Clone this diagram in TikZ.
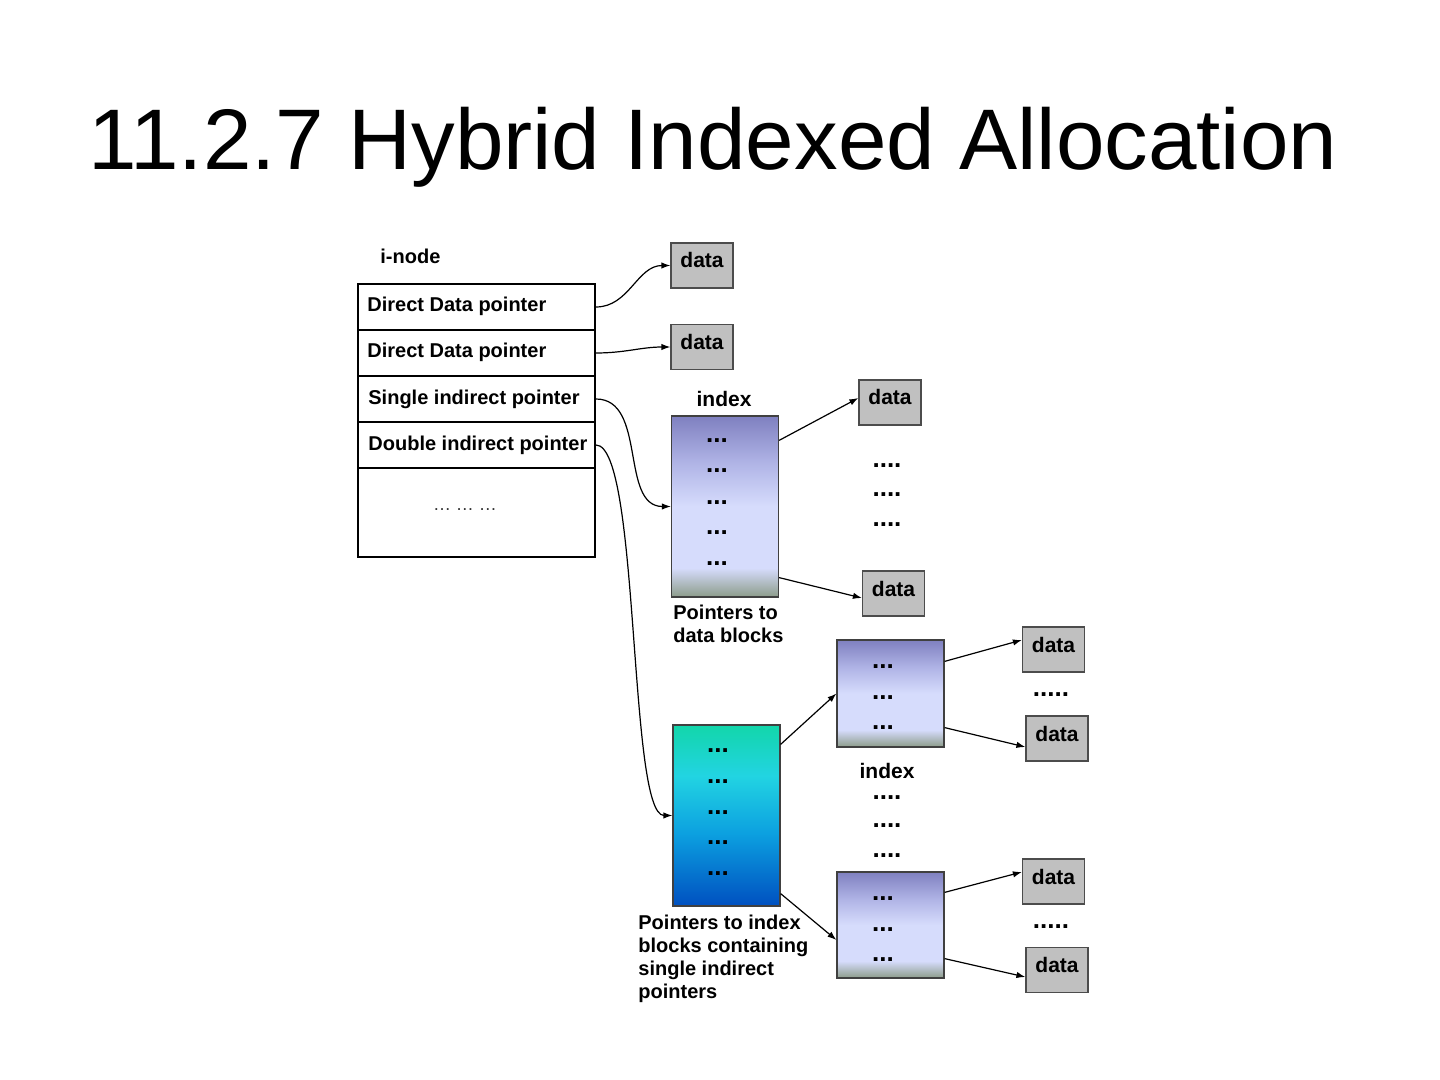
\documentclass[tikz,border=0pt]{standalone}
\usepackage{fontspec}
\setmainfont{Liberation Sans}
\usetikzlibrary{arrows.meta}
\definecolor{datagray}{HTML}{C0C0C0}
\definecolor{idxtop}{HTML}{7F80C0}
\definecolor{idxup}{HTML}{B0B4E6}
\definecolor{idxmid}{HTML}{D6DCFC}
\definecolor{idxbot}{HTML}{8C9C8A}
\definecolor{ttop}{HTML}{12D6AA}
\definecolor{tcyan}{HTML}{22D4E2}
\definecolor{tmid}{HTML}{0CA0E0}
\definecolor{tbot}{HTML}{0050C0}
\pgfdeclareverticalshading{idxshade}{100bp}{color(0bp)=(idxbot); color(25bp)=(idxbot); color(33bp)=(idxmid); color(50bp)=(idxmid); color(62bp)=(idxup); color(75bp)=(idxtop); color(100bp)=(idxtop)}
\pgfdeclareverticalshading{tealshade}{100bp}{color(0bp)=(tbot); color(25bp)=(tbot); color(45bp)=(tmid); color(61bp)=(tcyan); color(75bp)=(ttop); color(100bp)=(ttop)}
\begin{document}
\begin{tikzpicture}[x=0.5pt,y=-0.5pt,
  lbl/.style={font=\bfseries\fontsize{10}{11.5}\selectfont, inner sep=0pt},
  databox/.style={draw=black!70, fill=datagray, line width=0.6pt, minimum width=31pt, minimum height=22.5pt, inner sep=0pt, font=\bfseries\fontsize{10.5}{12}\selectfont, text height=7.5pt, text depth=5pt},
  rowbox/.style={draw=black, line width=0.9pt, minimum width=118.5pt, minimum height=23pt, inner sep=0pt},
  idxbox/.style={draw=black!75, line width=0.6pt, shading=idxshade, minimum width=53.5pt, inner sep=0pt},
  tealbox/.style={draw=black!75, line width=0.6pt, shading=tealshade, minimum width=53.5pt, inner sep=0pt},
  dots/.style={font=\bfseries\fontsize{13}{13}\selectfont, inner sep=0pt, anchor=base, text height=2pt, text depth=0pt},
  conn/.style={-{Latex[length=4.5pt,width=3.2pt]}, line width=0.6pt, black}]
\useasboundingbox[fill=white] (0,0) rectangle (1440,1080);

% title
\node[anchor=base west, inner sep=0pt, font=\fontsize{43}{43}\selectfont] (title) at (88,170) {\scalebox{1.014}[1]{11.2.7 Hybrid Indexed Allocation}};

% i-node
\node[lbl, anchor=west] (inodelbl) at (380,256) {i-node};
\node[rowbox] (r1) at (476.5,307) {};
\node[rowbox] (r2) at (476.5,353) {};
\node[rowbox] (r3) at (476.5,399) {};
\node[rowbox] (r4) at (476.5,445) {};
\node[rowbox, minimum height=44.5pt] (r5) at (476.5,512.5) {};
\node[lbl, anchor=west] (t1) at (367,306) {Direct Data pointer};
\node[lbl, anchor=west] (t2) at (367,352) {Direct Data pointer};
\node[lbl, anchor=west] (t3) at (368,399) {Single indirect pointer};
\node[lbl, anchor=west] (t4) at (368,445) {Double indirect pointer};
\node[inner sep=0pt, font=\fontsize{9}{9}\selectfont, text=black!80] (idots) at (465,510) {\ldots\ \ldots\ \ldots};

% data boxes
\node[databox] (d1) at (702,265.5) {data};
\node[databox] (d2) at (702,347) {data};
\node[databox] (d3) at (890,402.5) {data};
\node[databox] (d4) at (893.5,593.5) {data};
\node[databox] (d5) at (1053.5,649.5) {data};
\node[databox] (d6) at (1057,738.5) {data};
\node[databox] (d7) at (1053.5,881.5) {data};
\node[databox] (d8) at (1057,970) {data};

% index blocks
\node[lbl, font=\bfseries\fontsize{10.5}{12}\selectfont] (idxlbl1) at (724,399) {index};
\node[idxbox, minimum height=90.5pt] (i1) at (725,506.5) {};
\node[idxbox, minimum height=53.5pt] (i2) at (890.5,693.5) {};
\node[idxbox, minimum height=53pt] (i3) at (890.5,925) {};
\node[tealbox, minimum height=90.5pt] (t) at (726.5,815.5) {};
\node[lbl, font=\bfseries\fontsize{10.5}{12}\selectfont] (idxlbl2) at (887,771) {index};

% dots
\foreach \y [count=\k] in {439,469,500,530,561} \node[dots] (ia\k) at (717,\y+4) {...};
\foreach \y [count=\k] in {748,779,810,840,871} \node[dots] (ta\k) at (718,\y+4) {...};
\foreach \y [count=\k] in {664,695,725} \node[dots] (ib\k) at (883,\y+4) {...};
\foreach \y [count=\k] in {896,927,957} \node[dots] (ic\k) at (883,\y+4) {...};
\foreach \y [count=\k] in {463,492,522} \node[dots] (oa\k) at (887,\y+4) {....};
\foreach \y [count=\k] in {795,823,853} \node[dots] (ob\k) at (887,\y+4) {....};
\node[dots] (oc1) at (1051,696) {.....};
\node[dots] (oc2) at (1051,928) {.....};

% captions
\node[lbl, anchor=north west, align=left] (cap1) at (673,605) {Pointers to\\data blocks};
\node[lbl, anchor=north west, align=left] (cap2) at (638,915) {Pointers to index\\blocks containing\\single indirect\\pointers};

% connectors
\draw[conn] (r1.east) to[out=0,in=180] (d1.west);
\draw[conn] (r2.east) to[out=0,in=180] (d2.west);
\draw[conn] (r3.east) to[out=0,in=180] (i1.west);
\draw[conn] (r4.east) to[out=0,in=180,looseness=0.3] (t.west);
\draw[conn] ([yshift=-12.5pt]i1.north east) -- ([yshift=2.25pt]d3.west);
\draw[conn] ([yshift=10pt]i1.south east) -- ([yshift=-2.25pt]d4.west);
\draw[conn] ([yshift=-10pt]t.north east) -- (i2.west);
\draw[conn] ([yshift=6.5pt]t.south east) -- ([yshift=-7.5pt]i3.west);
\draw[conn] ([yshift=-11pt]i2.north east) -- ([yshift=4.75pt]d5.west);
\draw[conn] ([yshift=10pt]i2.south east) -- ([yshift=-4.25pt]d6.west);
\draw[conn] ([yshift=-10.5pt]i3.north east) -- ([yshift=4.75pt]d7.west);
\draw[conn] ([yshift=10pt]i3.south east) -- ([yshift=-3.5pt]d8.west);
\end{tikzpicture}
\end{document}
